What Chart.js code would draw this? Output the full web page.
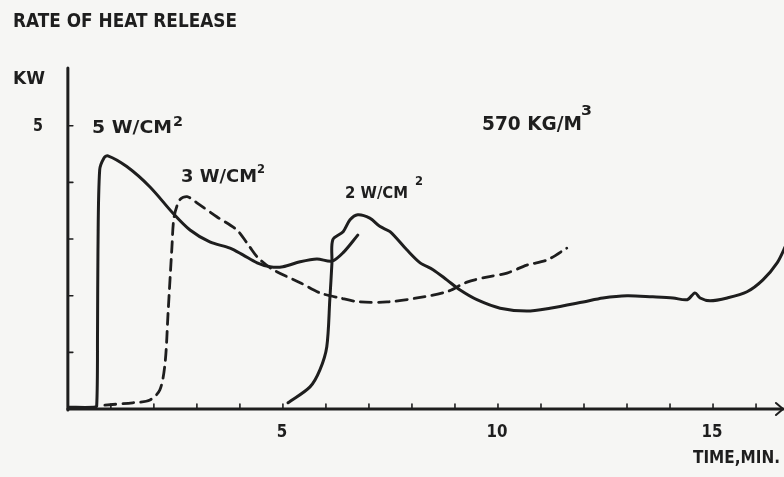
<!DOCTYPE html>
<html><head><meta charset="utf-8">
<script src="https://cdn.jsdelivr.net/npm/chart.js@4/dist/chart.umd.min.js"></script>
<style>html,body{margin:0;padding:0;background:#f6f6f4;}#wrap{width:784px;height:477px;}</style>
</head><body><div id="wrap"><canvas id="c" width="784" height="477"></canvas></div>
<script>
// ---- data (time in min, rate of heat release in kW) ----
const time5W = [0, 0.6, 0.67, 0.69, 0.70, 0.74, 0.84, 0.93, 1.37, 1.91, 2.44, 2.84, 3.30, 3.77, 4.07, 4.40, 4.70, 5.00, 5.40, 5.79, 6.14, 6.40, 6.74];
const rhr5W  = [0.03, 0.03, 0.05, 1.40, 2.81, 4.22, 4.43, 4.47, 4.28, 3.92, 3.46, 3.16, 2.95, 2.84, 2.72, 2.58, 2.51, 2.51, 2.60, 2.65, 2.61, 2.76, 3.07];

const time3W = [0.86, 1.51, 1.91, 2.14, 2.26, 2.33, 2.42, 2.47, 2.60, 2.77, 3.00, 3.47, 3.93, 4.23, 4.42, 4.77, 5.40, 5.86, 6.33, 6.79, 7.42, 8.12, 8.81, 9.28, 9.74, 10.21, 10.67, 11.14, 11.60];
const rhr3W  = [0.07, 0.11, 0.16, 0.34, 0.81, 1.70, 2.86, 3.39, 3.69, 3.75, 3.64, 3.39, 3.16, 2.86, 2.67, 2.46, 2.23, 2.05, 1.96, 1.89, 1.89, 1.96, 2.07, 2.24, 2.33, 2.40, 2.54, 2.63, 2.84];

const time2W = [5.12, 5.63, 5.86, 6.02, 6.09, 6.14, 6.16, 6.40, 6.56, 6.74, 7.02, 7.26, 7.49, 7.88, 8.19, 8.49, 8.81, 9.12, 9.51, 10.05, 10.67, 11.21, 11.98, 12.44, 13.00, 13.60, 14.07, 14.40, 14.58, 14.70, 14.93, 15.33, 15.79, 16.16, 16.49, 16.70];
const rhr2W  = [0.11, 0.39, 0.69, 1.10, 1.93, 2.58, 2.99, 3.13, 3.34, 3.43, 3.37, 3.22, 3.13, 2.81, 2.58, 2.46, 2.28, 2.10, 1.93, 1.78, 1.73, 1.78, 1.89, 1.96, 2.00, 1.98, 1.96, 1.93, 2.05, 1.96, 1.91, 1.96, 2.07, 2.28, 2.58, 2.90];

const xTickValues = [1, 2, 3, 4, 5, 6, 7, 8, 9, 10, 11, 12, 13, 14, 15, 16];
const xTickLabelValues = [5, 10, 15];
const yTickValues = [1, 2, 3, 4, 5];
const yTickLabelValues = [5];
const seriesNames = ['5 W/CM', '3 W/CM', '2 W/CM'];

const INK = '#1e1e1e';
const pts = (xs, ys) => xs.map((x, i) => ({x: x, y: ys[i]}));

function txt(ctx, s, x, y, size, w, align) {
  ctx.save();
  ctx.font = 'bold ' + size + 'px "DejaVu Sans", sans-serif';
  ctx.fillStyle = INK;
  ctx.textBaseline = 'alphabetic';
  const m = ctx.measureText(s).width;
  const sx = w ? w / m : 1;
  let left = x;
  if (align === 'center') left = x - (w || m) / 2;
  ctx.translate(left, y);
  ctx.scale(sx, 1);
  ctx.textAlign = 'left';
  ctx.fillText(s, 0, 0);
  ctx.restore();
}

const axesPlugin = {
  id: 'axesPlugin',
  beforeDraw(chart) {
    const ctx = chart.ctx;
    ctx.save();
    ctx.fillStyle = '#f6f6f4';
    ctx.fillRect(0, 0, chart.width, chart.height);
    ctx.restore();
  },
  afterDraw(chart) {
    const ctx = chart.ctx;
    const xs = chart.scales.x, ys = chart.scales.y;
    const x0 = xs.getPixelForValue(0), y0 = ys.getPixelForValue(0);
    const top = ys.getPixelForValue(ys.max);
    ctx.save();
    ctx.strokeStyle = INK;
    ctx.lineWidth = 3;
    ctx.lineCap = 'round';
    // y axis
    ctx.beginPath(); ctx.moveTo(x0, top); ctx.lineTo(x0, y0 + 1); ctx.stroke();
    // x axis
    const xr = chart.width - 1;
    ctx.beginPath(); ctx.moveTo(x0, y0); ctx.lineTo(xr, y0); ctx.stroke();
    ctx.lineWidth = 2;
    ctx.beginPath(); ctx.moveTo(xr - 7, y0 - 6); ctx.lineTo(xr, y0); ctx.lineTo(xr - 7, y0 + 6); ctx.stroke();
    // ticks
    ctx.lineWidth = 1.6;
    xTickValues.forEach(v => {
      const px = xs.getPixelForValue(v);
      ctx.beginPath(); ctx.moveTo(px, y0); ctx.lineTo(px, y0 - 5); ctx.stroke();
    });
    yTickValues.forEach(v => {
      const py = ys.getPixelForValue(v);
      ctx.beginPath(); ctx.moveTo(x0, py); ctx.lineTo(x0 + 5, py); ctx.stroke();
    });
    ctx.restore();
    // tick labels
    xTickLabelValues.forEach(v => {
      const s = String(v);
      txt(ctx, s, xs.getPixelForValue(v) - 1, 437, 17, s.length * 10.5, 'center');
    });
    yTickLabelValues.forEach(v => {
      txt(ctx, String(v), 33, ys.getPixelForValue(v) + 5, 17, 10);
    });
    // titles / annotations
    txt(ctx, 'RATE OF HEAT RELEASE', 13, 27, 20, 224);
    txt(ctx, 'KW', 13, 84, 18, 32);
    txt(ctx, 'TIME,MIN.', 693, 463, 18, 87);
    txt(ctx, seriesNames[0], 92, 133, 18, 80);
    txt(ctx, '2', 173, 126, 14, 10);
    txt(ctx, seriesNames[1], 181, 182, 18, 76);
    txt(ctx, '2', 257, 173, 13, 8);
    txt(ctx, seriesNames[2], 345, 198, 16, 63);
    txt(ctx, '2', 415, 185, 13, 8);
    txt(ctx, '570 KG/M', 482, 130, 19, 100);
    txt(ctx, '3', 581, 115, 14, 11);
  }
};

new Chart(document.getElementById('c'), {
  type: 'line',
  data: {
    datasets: [
      { label: seriesNames[0], data: pts(time5W, rhr5W), borderColor: INK, borderWidth: 3, tension: 0.3 },
      { label: seriesNames[1], data: pts(time3W, rhr3W), borderColor: INK, borderWidth: 2.8, tension: 0.3, borderDash: [11, 7] },
      { label: seriesNames[2], data: pts(time2W, rhr2W), borderColor: INK, borderWidth: 3, tension: 0.3 }
    ]
  },
  options: {
    responsive: false,
    animation: false,
    devicePixelRatio: 1,
    layout: { padding: { left: 67, right: 0, top: 68, bottom: 68 } },
    elements: { point: { radius: 0 }, line: { borderCapStyle: 'round', borderJoinStyle: 'round', fill: false } },
    scales: {
      x: { type: 'linear', min: -0.02, max: 16.65, display: false },
      y: { type: 'linear', min: 0, max: 6.02, display: false }
    },
    plugins: { legend: { display: false }, tooltip: { enabled: false } }
  },
  plugins: [axesPlugin]
});
</script>
</body></html>
